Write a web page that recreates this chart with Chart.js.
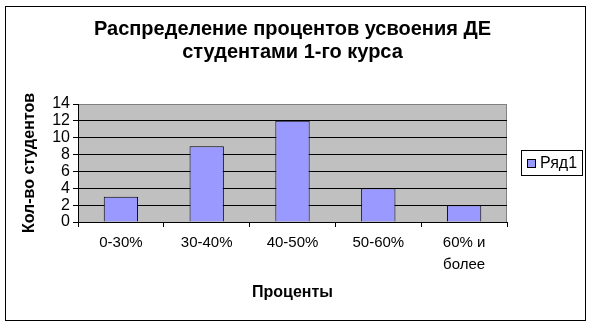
<!DOCTYPE html>
<html>
<head>
<meta charset="utf-8">
<script src="https://cdn.jsdelivr.net/npm/chart.js@4"></script>
<style>
  body { margin: 0; background: #fff; }
  canvas { display: block; }
</style>
</head>
<body>
<canvas id="chart" width="594" height="327"></canvas>
<script>
const categories = [['0-30%'], ['30-40%'], ['40-50%'], ['50-60%'], ['60% и', 'более']];
const values = [3, 9, 12, 4, 2];
const yMin = 0;
const yMax = 14;
const yStep = 2;
const seriesName = 'Ряд1';
const titleLines = ['Распределение процентов усвоения ДЕ', 'студентами 1-го курса'];
const xTitle = 'Проценты';
const yTitle = 'Кол-во студентов';

const FONT = "'Liberation Sans', Arial, sans-serif";

// gray plot area + chart frame
const frame = {
  id: 'frame',
  beforeDraw(chart) {
    const { ctx, chartArea: a } = chart;
    ctx.save();
    ctx.fillStyle = '#c0c0c0';
    ctx.fillRect(a.left, a.top, a.right - a.left, a.bottom - a.top);
    ctx.strokeStyle = '#808080';
    ctx.lineWidth = 1;
    ctx.strokeRect(a.left + 0.5, a.top + 0.5, a.right - a.left - 1, a.bottom - a.top);
    ctx.restore();
  },
  afterDraw(chart) {
    const ctx = chart.ctx;
    ctx.save();
    ctx.strokeStyle = '#000';
    ctx.lineWidth = 1;
    ctx.strokeRect(5.5, 6.5, 580, 314);
    ctx.restore();
  }
};

// Excel-style legend box on the right
const boxLegend = {
  id: 'boxLegend',
  afterDraw(chart) {
    const ctx = chart.ctx;
    const ds = chart.data.datasets[0];
    ctx.save();
    ctx.fillStyle = '#fff';
    ctx.fillRect(521.5, 150.5, 61, 25);
    ctx.strokeStyle = '#000';
    ctx.lineWidth = 1;
    ctx.strokeRect(521.5, 150.5, 61, 25);
    ctx.fillStyle = ds.backgroundColor;
    ctx.fillRect(527.5, 159.5, 8, 8);
    ctx.strokeRect(527.5, 159.5, 8, 8);
    ctx.fillStyle = '#000';
    ctx.font = '16px ' + FONT;
    ctx.textBaseline = 'middle';
    ctx.textAlign = 'left';
    ctx.fillText(ds.label, 540, 164);
    ctx.restore();
  }
};

new Chart(document.getElementById('chart'), {
  type: 'bar',
  data: {
    labels: categories,
    datasets: [{
      label: seriesName,
      data: values,
      backgroundColor: '#9999ff',
      borderColor: '#000',
      borderWidth: 1,
      barPercentage: 0.4,
      categoryPercentage: 1
    }]
  },
  options: {
    responsive: false,
    animation: false,
    layout: { padding: { left: 0, right: 87, top: 0, bottom: 0 } },
    plugins: {
      legend: { display: false },
      tooltip: { enabled: false },
      title: {
        display: true,
        fullSize: false,
        text: titleLines,
        color: '#000',
        font: { family: FONT, size: 20, weight: 'bold', lineHeight: 23 / 20 },
        padding: { top: 18, bottom: 40 }
      }
    },
    scales: {
      x: {
        afterFit(s) { s.height = 105; },
        grid: {
          offset: true,
          drawOnChartArea: false,
          drawTicks: true,
          tickLength: 5,
          tickColor: '#000'
        },
        border: { color: '#000', width: 1 },
        ticks: {
          color: '#000',
          padding: 5,
          maxRotation: 0,
          font: { family: FONT, size: 15, lineHeight: 1.45 }
        },
        title: {
          display: true,
          text: xTitle,
          color: '#000',
          font: { family: FONT, size: 16, weight: 'bold' },
          padding: { top: 0, bottom: 25 }
        }
      },
      y: {
        min: yMin,
        max: yMax,
        afterFit(s) { s.width = 78; },
        grid: {
          color: c => (c.tick && c.tick.value === yMax ? '#808080' : '#000'),
          drawTicks: true,
          tickLength: 5,
          tickColor: '#000'
        },
        border: { color: '#000', width: 1 },
        ticks: {
          stepSize: yStep,
          autoSkip: false,
          color: '#000',
          padding: 3,
          font: { family: FONT, size: 16 }
        },
        title: {
          display: true,
          text: yTitle,
          color: '#000',
          font: { family: FONT, size: 16, weight: 'bold' },
          padding: { top: 20, bottom: 0 }
        }
      }
    }
  },
  plugins: [frame, boxLegend]
});
</script>
</body>
</html>
